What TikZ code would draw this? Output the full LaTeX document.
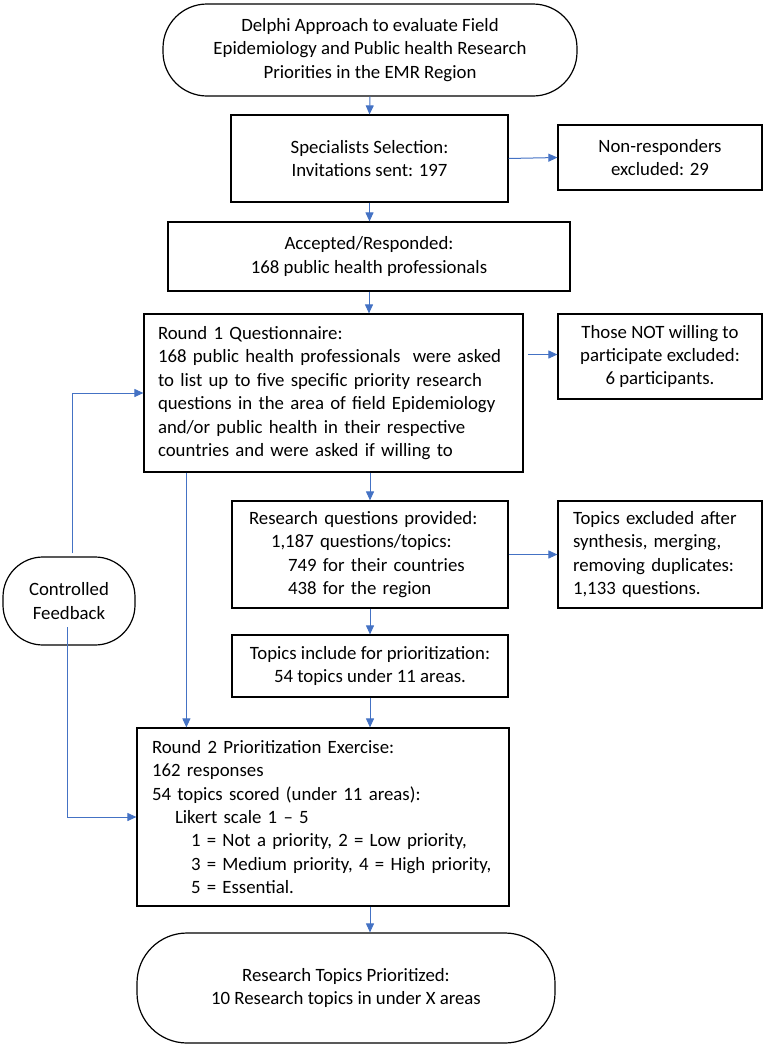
\documentclass[tikz,border=0pt]{standalone}
\usepackage{fontspec}
\setmainfont{Carlito}
\usetikzlibrary{arrows.meta,calc}
\definecolor{arrblue}{HTML}{4472C4}
\begin{document}
\begin{tikzpicture}[x=1pt,y=-1pt,
  every node/.style={font=\fontsize{18.8}{23.4}\selectfont},
  box/.style={draw, line width=1.2pt, inner sep=0pt, align=center},
  rbox/.style={box, rounded corners=#1},
  lbox/.style={draw, line width=1.2pt, inner ysep=0pt, align=left},
  arr/.style={draw=arrblue, line width=1pt, -{Triangle[length=9pt,width=8pt]}},
  ln/.style={draw=arrblue, line width=1pt}
]
\useasboundingbox (0,0) rectangle (765,1047);

\node[rbox=44pt, minimum width=414pt, minimum height=92pt] (top) at (370,50)
  {Delphi Approach to evaluate Field\\Epidemiology and Public health Research\\Priorities in the EMR Region};
\node[box, minimum width=277pt, minimum height=87pt] (spec) at (369.5,158.5)
  {Specialists Selection:\\Invitations sent: 197};
\node[box, minimum width=204pt, minimum height=65pt] (nonresp) at (660,157.5)
  {Non-responders\\excluded: 29};
\node[box, minimum width=402pt, minimum height=69pt] (acc) at (369,256.5)
  {Accepted/Responded:\\168 public health professionals};
\node[lbox, minimum width=379pt, minimum height=158pt, inner xsep=14pt, text width=351pt] (r1) at (333.5,393)
  {Round 1 Questionnaire:\\
   168 public health professionals\ \ were asked\\
   to list up to five specific priority research\\
   questions in the area of field Epidemiology\\
   and/or public health in their respective\\
   countries and were asked if willing to};
\node[box, minimum width=204pt, minimum height=85pt] (notw) at (660,356.5)
  {Those NOT willing to\\participate excluded:\\6 participants.};
\node[lbox, minimum width=276pt, minimum height=107pt, inner xsep=17pt, text width=242pt] (rq) at (370,554.5)
  {Research questions provided:\\
   \hspace*{22pt}1,187 questions/topics:\\
   \hspace*{39pt}749 for their countries\\
   \hspace*{39pt}438 for the region};
\node[lbox, minimum width=204pt, minimum height=107pt, inner xsep=15pt, text width=174pt] (texcl) at (660,554.5)
  {Topics excluded after\\synthesis, merging,\\removing duplicates:\\1,133 questions.};
\node[box, minimum width=276pt, minimum height=62pt] (tinc) at (370,666)
  {Topics include for prioritization:\\54 topics under 11 areas.};
\node[lbox, minimum width=372pt, minimum height=178pt, inner xsep=15pt, text width=342pt] (r2) at (323,817)
  {Round 2 Prioritization Exercise:\\
   162 responses\\
   54 topics scored (under 11 areas):\\
   \hspace*{23pt}Likert scale 1 – 5\\
   \hspace*{39pt}1 = Not a priority, 2 = Low priority,\\
   \hspace*{39pt}3 = Medium priority, 4 = High priority,\\
   \hspace*{39pt}5 = Essential.};
\node[rbox=50pt, minimum width=418pt, minimum height=110pt] (fin) at (346,988)
  {Research Topics Prioritized:\\10 Research topics in under X areas};
\node[rbox=40pt, minimum width=132pt, minimum height=88pt] (cf) at (69,601)
  {Controlled\\Feedback};

\coordinate (r1l) at ($(r1.south west)+(43,0)$);
\coordinate (cfa) at ($(cf.north)+(3,-3)$);
\coordinate (cfb) at ($(cf.center)+(-2,26)$);

\draw[arr] (top.south) -- (spec.north);
\draw[arr] (spec.east) -- (nonresp.west);
\draw[arr] (spec.south) -- (spec.south |- acc.north);
\draw[arr] (acc.south) -- (acc.south |- r1.north);
\draw[arr] ($(notw.west)+(-29,-2)$) -- ($(notw.west)+(0,-2)$);
\draw[arr] (rq.north |- r1.south) -- (rq.north);
\draw[arr] (rq.east) -- (texcl.west);
\draw[arr] (rq.south) -- (tinc.north);
\draw[arr] (tinc.south) -- (tinc.south |- r2.north);
\draw[arr] (r1l) -- (r1l |- r2.north);
\draw[arr] (tinc.south |- r2.south) -- (tinc.south |- fin.north);
\draw[arr] (cfa) |- (r1.west);
\draw[arr] (cfb) |- (r2.west);
\end{tikzpicture}
\end{document}
